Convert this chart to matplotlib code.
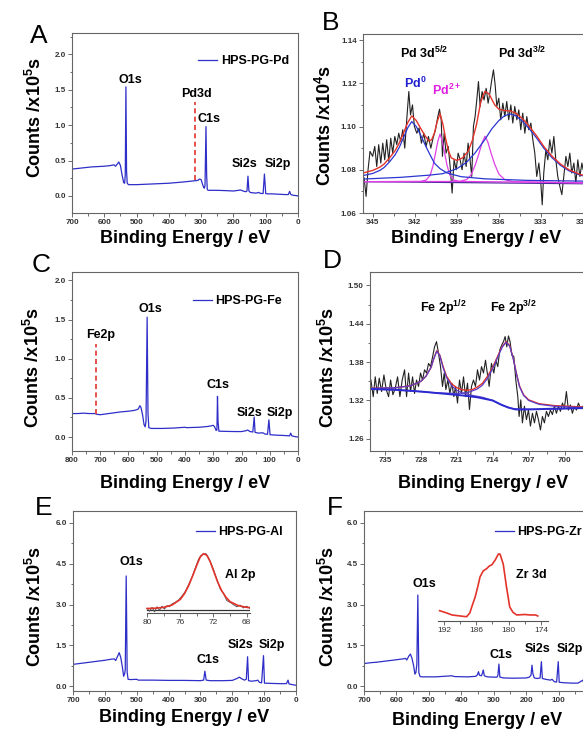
import matplotlib
matplotlib.use("Agg")
import matplotlib.pyplot as plt
from matplotlib.ticker import MultipleLocator, FormatStrFormatter

plt.rcParams['font.family'] = ['Liberation Sans', 'DejaVu Sans']
plt.rcParams['font.weight'] = 'bold'
plt.rcParams['axes.labelweight'] = 'bold'
plt.rcParams['mathtext.default'] = 'regular'

# ---------------- survey spectra (eV, counts x1e5) ----------------
# A: HPS-PG-Pd
pd_be = [700, 680, 660, 640, 620, 600, 580, 570, 565, 560, 555, 550, 545, 540, 537, 535, 533, 531, 529, 525,
         500, 450, 400, 350, 320, 310, 305, 300, 296, 292, 290, 288, 285, 283, 281, 278, 250, 220, 200, 185,
         178, 170, 162, 158, 155, 152, 148, 140, 130, 122, 118, 112, 108, 104, 100, 95, 80, 60, 40, 30,
         26, 22, 15, 5, 0]
pd_cts = [0.38, 0.39, 0.40, 0.41, 0.415, 0.42, 0.43, 0.44, 0.42, 0.45, 0.48, 0.43, 0.30, 0.19, 0.18, 0.30, 1.54, 0.35, 0.18, 0.16,
          0.16, 0.17, 0.18, 0.20, 0.215, 0.22, 0.24, 0.23, 0.17, 0.12, 0.11, 0.15, 0.98, 0.30, 0.09, 0.08, 0.08, 0.075, 0.07, 0.08,
          0.085, 0.07, 0.06, 0.07, 0.28, 0.07, 0.05, 0.045, 0.04, 0.05, 0.04, 0.035, 0.035, 0.31, 0.035, 0.03, 0.03, 0.025, 0.02, 0.02,
          0.065, 0.02, 0.01, 0.005, 0.0]
pd3d_line_be = 320
pd3d_line_cts = [0.22, 1.32]

# C: HPS-PG-Fe
fe_be = [800, 780, 760, 740, 720, 710, 700, 690, 670, 650, 630, 600, 580, 570, 565, 560, 556, 550, 545, 541,
         538, 534, 531, 528, 520, 480, 440, 400, 395, 350, 320, 305, 300, 295, 290, 287, 285, 283, 280, 250,
         220, 200, 185, 178, 170, 160, 155, 152, 140, 125, 118, 108, 103, 99, 80, 50, 30, 26, 22, 10, 0]
fe_cts = [0.30, 0.30, 0.305, 0.30, 0.30, 0.29, 0.285, 0.29, 0.30, 0.31, 0.32, 0.33, 0.34, 0.35, 0.36, 0.40, 0.38, 0.28, 0.16, 0.13,
          0.20, 1.53, 0.30, 0.12, 0.11, 0.11, 0.115, 0.125, 0.12, 0.125, 0.135, 0.145, 0.15, 0.13, 0.085, 0.09, 0.52, 0.20, 0.075, 0.072,
          0.07, 0.07, 0.08, 0.09, 0.07, 0.065, 0.255, 0.06, 0.05, 0.055, 0.04, 0.035, 0.22, 0.03, 0.025, 0.02, 0.015, 0.05, 0.015, 0.005, 0.0]
fe2p_line_be = 714
fe2p_line_cts = [0.30, 1.19]

# E: HPS-PG-Al
al_be = [700, 680, 660, 640, 620, 600, 580, 570, 566, 560, 555, 550, 545, 541, 538, 536, 533, 530, 527, 520,
         500, 495, 450, 400, 350, 300, 290, 286, 282, 270, 230, 200, 185, 178, 172, 162, 156, 152, 149, 140,
         125, 120, 115, 108, 102, 99, 80, 50, 30, 25, 22, 10, 0]
al_cts = [0.80, 0.83, 0.86, 0.89, 0.92, 0.95, 0.99, 1.00, 0.94, 1.10, 1.23, 1.05, 0.70, 0.36, 0.45, 0.60, 4.05, 0.50, 0.25, 0.24,
          0.25, 0.22, 0.22, 0.21, 0.21, 0.20, 0.22, 0.55, 0.22, 0.20, 0.20, 0.21, 0.28, 0.33, 0.28, 0.22, 0.25, 1.08, 0.20, 0.18,
          0.20, 0.22, 0.14, 0.12, 1.12, 0.11, 0.10, 0.09, 0.09, 0.22, 0.08, 0.05, 0.03]

# F: HPS-PG-Zr
zr_be = [700, 680, 660, 640, 620, 600, 580, 572, 568, 562, 557, 552, 547, 543, 540, 537, 534, 531, 527, 520,
         480, 440, 430, 420, 380, 355, 350, 347, 344, 338, 334, 332, 329, 320, 300, 290, 287, 284, 281, 270,
         240, 200, 190, 185, 182, 179, 175, 165, 157, 153, 150, 140, 125, 120, 113, 106, 101, 98, 80, 60,
         40, 25, 22, 0]
zr_cts = [0.83, 0.86, 0.88, 0.91, 0.94, 0.97, 1.00, 1.02, 0.96, 1.10, 1.18, 1.02, 0.75, 0.44, 0.50, 0.80, 3.35, 0.50, 0.35, 0.34,
          0.34, 0.37, 0.38, 0.35, 0.34, 0.36, 0.42, 0.53, 0.40, 0.38, 0.50, 0.59, 0.38, 0.34, 0.33, 0.33, 0.40, 0.81, 0.33, 0.30,
          0.29, 0.30, 0.33, 0.40, 0.77, 0.45, 0.30, 0.28, 0.30, 0.90, 0.28, 0.25, 0.22, 0.25, 0.16, 0.15, 0.90, 0.14, 0.12, 0.11,
          0.11, 0.22, 0.10, 0.08]

# ---------------- B: Pd 3d high resolution (counts x1e4) ----------------
pd3d_be = [345.62, 345.48, 345.34, 345.20, 345.01, 344.86, 344.72, 344.58, 344.43, 344.29,
           344.15, 344.01, 343.86, 343.72, 343.58, 343.43, 343.29, 343.15, 343.01, 342.86,
           342.72, 342.58, 342.43, 342.31, 342.17, 342.03, 341.86, 341.70, 341.53, 341.36,
           341.20, 341.03, 340.86, 340.70, 340.53, 340.36, 340.24, 340.12, 340.03, 339.91,
           339.77, 339.62, 339.48, 339.34, 339.20, 339.05, 338.91,
           338.77, 338.63, 338.49, 338.34, 338.20, 338.06, 337.94, 337.82, 337.70, 337.58,
           337.46, 337.34, 337.20, 337.06, 336.91, 336.77, 336.63, 336.51, 336.39, 336.27,
           336.15, 336.01, 335.87, 335.72, 335.58, 335.44, 335.30, 335.15, 335.01, 334.87,
           334.72, 334.58, 334.44, 334.30, 334.15, 334.01, 333.87, 333.72, 333.58, 333.44,
           333.30, 333.15, 333.01, 332.91, 332.80, 332.65, 332.51, 332.37, 332.22, 332.08,
           331.94, 331.80, 331.65, 331.51, 331.37, 331.22, 331.08, 330.94, 330.80, 330.65,
           330.51, 330.37, 330.22, 330.08, 329.99, 329.85, 329.70, 329.55]
pd3d_cts = [1.0762, 1.0677, 1.0800, 1.0885, 1.0862, 1.0908, 1.0815, 1.0916, 1.0831, 1.0923,
            1.0846, 1.0939, 1.0839, 1.0946, 1.0877, 1.0954, 1.0916, 1.0969, 1.0931, 1.0985,
            1.0900, 1.1031, 1.1162, 1.1054, 1.1100, 1.1000, 1.0969, 1.0993, 1.0923, 1.0969,
            1.0908, 1.0954, 1.0900, 1.0946, 1.0985, 1.1046, 1.1080, 1.1031, 1.0862, 1.0969,
            1.0877, 1.0908, 1.0815, 1.0692, 1.0846, 1.0800, 1.0877,
            1.0846, 1.0800, 1.0877, 1.0815, 1.0923, 1.0846, 1.0769, 1.1000, 1.1046, 1.1123,
            1.1208, 1.1093, 1.1162, 1.1123, 1.1177, 1.1108, 1.1162, 1.1216, 1.1262, 1.1193,
            1.1093, 1.1131, 1.1031, 1.1108, 1.1046, 1.1116, 1.1031, 1.1100, 1.1016, 1.1093,
            1.1031, 1.1077, 1.0985, 1.1062, 1.0969, 1.1046, 1.0985, 1.1016, 1.0939, 1.0877,
            1.0769, 1.0831, 1.0738, 1.0638, 1.0785, 1.0892, 1.0846, 1.0939, 1.0877, 1.0954,
            1.0846, 1.0769, 1.0723, 1.0685, 1.0769, 1.0862, 1.0815, 1.0877, 1.0785, 1.0831,
            1.0738, 1.0846, 1.0769, 1.0831, 1.0800, 1.0790, 1.0760, 1.0820]

pd0a_be = [345.7, 345.0, 344.5, 344.2, 343.8, 343.4, 343.1, 342.8, 342.5, 342.22, 341.9, 341.6, 341.3,
           341.0, 340.6, 340.2, 339.7, 338.7, 337.0, 334.0, 329.5]
pd0a_cts = [1.0773, 1.0783, 1.0797, 1.0810, 1.0837, 1.0870, 1.0905, 1.0950, 1.0995, 1.1023, 1.1000, 1.0962, 1.0920,
            1.0880, 1.0830, 1.0805, 1.0785, 1.0768, 1.0758, 1.0751, 1.0747]
pd0b_be = [345.7, 343.0, 341.0, 340.0, 339.0, 338.3, 337.7, 337.0, 336.5, 336.0, 335.6, 335.2, 334.8, 334.3,
           333.8, 333.3, 332.8, 332.2, 331.6, 331.0, 330.2, 329.5]
pd0b_cts = [1.0757, 1.0765, 1.0775, 1.0782, 1.0805, 1.0835, 1.0878, 1.0940, 1.0990, 1.1028, 1.1050, 1.1058, 1.1050, 1.1023,
            1.0987, 1.0946, 1.0900, 1.0855, 1.0820, 1.0795, 1.0775, 1.0765]
pd2a_be = [345.7, 341.6, 341.2, 340.9, 340.7, 340.5, 340.35, 340.2, 340.05, 339.9, 339.7, 339.5, 339.2, 338.8, 329.5]
pd2a_cts = [1.0745, 1.0746, 1.0752, 1.0775, 1.0820, 1.0885, 1.0935, 1.0965, 1.0935, 1.0885, 1.0820, 1.0775, 1.0752, 1.0746, 1.0740]
pd2b_be = [345.7, 338.8, 338.3, 338.0, 337.7, 337.45, 337.2, 337.0, 336.8, 336.55, 336.3, 336.0, 335.6, 335.0, 329.5]
pd2b_cts = [1.0745, 1.0746, 1.0755, 1.0775, 1.0820, 1.0870, 1.0925, 1.0955, 1.0930, 1.0875, 1.0825, 1.0780, 1.0755, 1.0745, 1.0738]
pdfit_be = [345.7, 345.0, 344.5, 344.2, 343.8, 343.4, 343.1, 342.8, 342.5, 342.22, 341.9, 341.6, 341.3, 341.0,
            340.8, 340.6, 340.4, 340.2, 340.0, 339.8, 339.6, 339.4, 339.0, 338.6, 338.2, 337.9, 337.6, 337.3,
            337.0, 336.7, 336.3, 336.0, 335.6, 335.2, 334.8, 334.3, 333.8, 333.3, 332.8, 332.2, 331.6, 331.0,
            330.2, 329.5]
pdfit_cts = [1.0785, 1.0797, 1.0812, 1.0826, 1.0855, 1.0889, 1.0925, 1.0972, 1.1019, 1.1049, 1.1028, 1.0993, 1.0960, 1.0933,
             1.0939, 1.0970, 1.1024, 1.1060, 1.1011, 1.0943, 1.0887, 1.0855, 1.0843, 1.0855, 1.0885, 1.0935, 1.1009, 1.1113,
             1.1163, 1.1150, 1.1100, 1.1080, 1.1074, 1.1072, 1.1062, 1.1036, 1.0998, 1.0956, 1.0908, 1.0862, 1.0826, 1.0800,
             1.0778, 1.0768]
pdbg_be = [345.7, 329.5]
pdbg_cts = [1.0745, 1.0735]

# ---------------- D: Fe 2p high resolution (counts x1e5) ----------------
fe2p_be = [737.72, 737.27, 736.88, 736.49, 736.10, 735.65, 735.19, 734.74, 734.28, 733.89,
           733.44, 732.99, 732.53, 732.08, 731.63, 731.17, 730.78, 730.39, 730.00, 729.61,
           729.23, 728.84, 728.45, 728.06, 727.67, 727.28, 726.89, 726.50, 726.11, 725.72,
           725.33, 724.95, 724.56, 724.17, 723.78, 723.45, 723.13, 722.74, 722.35, 721.96,
           721.57, 721.25, 720.86, 720.47, 720.08, 719.69, 719.30, 718.91, 718.53, 718.14,
           717.75, 717.36, 716.97, 716.58, 716.19, 715.80, 715.41,
           714.70, 714.25, 713.79, 713.41, 713.02, 712.63, 712.24, 711.91, 711.59, 711.26,
           710.94, 710.62, 710.29, 709.90, 709.51, 709.12, 708.87, 708.54, 708.22, 707.83,
           707.44, 707.05, 706.66, 706.27, 705.88, 705.49, 705.10, 704.71, 704.33, 703.94,
           703.55, 703.16, 702.77, 702.38, 701.99, 701.60, 701.21, 700.82, 700.43, 700.05,
           699.66, 699.27, 698.88, 698.49, 698.10, 697.71, 697.32, 696.93, 696.48,
           695.9, 695.3, 694.7, 694.0]
fe2p_cts = [1.352, 1.326, 1.357, 1.331, 1.355, 1.334, 1.360, 1.337, 1.326, 1.352,
            1.329, 1.339, 1.357, 1.326, 1.352, 1.368, 1.326, 1.363, 1.334, 1.357,
            1.331, 1.352, 1.342, 1.363, 1.352, 1.368, 1.363, 1.378, 1.373, 1.388,
            1.404, 1.412, 1.394, 1.373, 1.342, 1.363, 1.337, 1.352, 1.331, 1.347,
            1.326, 1.342, 1.316, 1.352, 1.331, 1.357, 1.326, 1.347, 1.306, 1.342,
            1.352, 1.342, 1.368, 1.352, 1.373, 1.363, 1.383,
            1.342, 1.378, 1.363, 1.383, 1.373, 1.399, 1.407, 1.412, 1.420, 1.404,
            1.421, 1.412, 1.391, 1.389, 1.352, 1.326, 1.295, 1.321, 1.285, 1.311,
            1.290, 1.305, 1.280, 1.300, 1.285, 1.303, 1.290, 1.274, 1.295, 1.285,
            1.303, 1.295, 1.305, 1.298, 1.311, 1.300, 1.311, 1.303, 1.316, 1.308,
            1.334, 1.305, 1.313, 1.300, 1.311, 1.305, 1.316, 1.308, 1.311,
            1.304, 1.318, 1.307, 1.313]

febg_be = [737.9, 733, 728, 724, 720, 717, 714, 712.5, 711, 709.5, 707, 703, 697, 693]
febg_cts = [1.338, 1.337, 1.334, 1.331, 1.328, 1.325, 1.320, 1.314, 1.309, 1.306, 1.306, 1.307, 1.308, 1.308]
fe1_be = [737.9, 733, 730, 728, 727, 726, 725.5, 724.9, 724.3, 723.7, 723, 722, 721, 720, 718, 716, 714, 712, 710, 705, 697, 693]
fe1_cts = [1.339, 1.340, 1.343, 1.350, 1.358, 1.372, 1.385, 1.397, 1.390, 1.372, 1.356, 1.343, 1.336, 1.332, 1.328, 1.325,
           1.320, 1.312, 1.307, 1.306, 1.308, 1.308]
fe2_be = [737.9, 730, 725, 721, 719, 717, 716, 715, 714, 713, 712.2, 711.4, 710.7, 710, 709.4, 708.8, 708, 707, 705, 702, 697, 693]
fe2_cts = [1.338, 1.335, 1.332, 1.331, 1.332, 1.338, 1.344, 1.355, 1.370, 1.388, 1.403, 1.411, 1.405, 1.385, 1.362, 1.342,
           1.328, 1.320, 1.314, 1.311, 1.309, 1.309]
fefit_be = [737.9, 733, 730, 728, 727, 726, 725.5, 724.9, 724.3, 723.7, 723, 722, 721, 720, 719, 718, 717, 716, 715, 714,
            713, 712.2, 711.4, 710.7, 710, 709.4, 708.8, 708, 707, 705, 702, 697, 693]
fefit_cts = [1.339, 1.340, 1.343, 1.350, 1.358, 1.372, 1.385, 1.398, 1.391, 1.374, 1.358, 1.346, 1.340, 1.337, 1.336, 1.337,
             1.341, 1.347, 1.358, 1.372, 1.390, 1.404, 1.412, 1.406, 1.386, 1.363, 1.343, 1.329, 1.321, 1.315, 1.312, 1.310, 1.310]

# ---------------- insets (relative intensity) ----------------
al2p_be = [80.0, 79.7, 79.4, 79.1, 78.8, 78.5, 78.2, 77.9, 77.6, 77.3, 77.0, 76.6, 76.2, 75.8, 75.4, 75.0, 74.6, 74.2,
           73.8, 73.5, 73.2, 72.9, 72.6, 72.3, 72.0, 71.6, 71.2, 70.8, 70.4, 70.0, 69.6, 69.2, 68.8, 68.4, 68.0, 67.6]
al2p_cts = [0.03, -0.02, 0.05, -0.03, 0.06, 0.0, 0.07, 0.02, 0.08, 0.06, 0.11, 0.14, 0.18, 0.25, 0.33, 0.45, 0.58, 0.74,
            0.90, 0.97, 0.99, 1.0, 0.93, 0.83, 0.72, 0.55, 0.38, 0.30, 0.17, 0.14, 0.10, 0.06, 0.09, 0.04, 0.07, 0.03]
al2p_fit_be = [80.0, 79.0, 78.0, 77.0, 76.0, 75.5, 75.0, 74.5, 74.0, 73.6, 73.2, 72.8, 72.4, 72.0, 71.5, 71.0, 70.5,
               70.0, 69.0, 68.0, 67.6]
al2p_fit = [0.03, 0.035, 0.05, 0.09, 0.19, 0.29, 0.43, 0.61, 0.80, 0.94, 1.0, 0.97, 0.86, 0.70, 0.50, 0.34, 0.23,
            0.15, 0.08, 0.05, 0.045]
al2p_bg_be = [80.0, 67.6]
al2p_bg = [0.01, 0.01]

zr3d_be = [192.8, 191.5, 190.5, 189.0, 187.8, 187.2, 186.8, 186.2, 185.7, 185.3, 184.7, 184.1, 183.6, 183.1,
           182.5, 181.9, 181.6, 181.0, 180.4, 179.8, 179.2, 178.5, 177.0, 176.0, 175.0, 174.6]
zr3d_cts = [0.154, 0.12, 0.09, 0.075, 0.064, 0.12, 0.22, 0.36, 0.52, 0.66, 0.75, 0.78, 0.82, 0.84,
            0.91, 1.0, 1.0, 0.85, 0.51, 0.21, 0.13, 0.09, 0.097, 0.09, 0.09, 0.075]

BLUE = '#2e2ec8'
RED = '#e3342c'
MAG = '#e040e6'
W, H = 583, 730
fig = plt.figure(figsize=(W / 100, H / 100), dpi=100)


def add_ax(x0, y0, x1, y1):
    # box in pixels, measured from the top left corner of the picture
    return fig.add_axes([x0 / W, 1 - y1 / H, (x1 - x0) / W, (y1 - y0) / H])


def style(ax, xstep, ystep, yfmt):
    ax.xaxis.set_major_locator(MultipleLocator(xstep))
    ax.xaxis.set_minor_locator(MultipleLocator(xstep / 2))
    ax.yaxis.set_major_locator(MultipleLocator(ystep))
    ax.yaxis.set_minor_locator(MultipleLocator(ystep / 2))
    ax.yaxis.set_major_formatter(FormatStrFormatter(yfmt))
    ax.tick_params(which='both', direction='out', labelsize=5.8, width=0.6,
                   color='#555555', labelcolor='#333333', pad=1.5)
    ax.tick_params(which='major', length=3)
    ax.tick_params(which='minor', length=1.8)
    for s in ax.spines.values():
        s.set_color('#666666')
        s.set_linewidth(0.8)


def labels(ax, ylab, ylab_xy, xlab_y):
    ax.set_xlabel('Binding Energy / eV', fontsize=13, fontweight='bold', va='baseline')
    ax.xaxis.set_label_coords(0.5, xlab_y)
    ax.set_ylabel(ylab, fontsize=13, fontweight='bold', va='center')
    ax.yaxis.set_label_coords(*ylab_xy)


def legend(ax, x, y):
    ax.legend(loc='center right', bbox_to_anchor=(x, y), frameon=False, fontsize=9,
              handlelength=1.5, handletextpad=0.3, borderpad=0, borderaxespad=0)


def inset_style(ax, step):
    ax.patch.set_visible(False)
    for side in ['left', 'top', 'right']:
        ax.spines[side].set_visible(False)
    ax.spines['bottom'].set_color('#555555')
    ax.spines['bottom'].set_linewidth(0.8)
    ax.set_yticks([])
    ax.xaxis.set_major_locator(MultipleLocator(step))
    ax.xaxis.set_minor_locator(MultipleLocator(step / 2))
    ax.tick_params(which='both', direction='out', labelsize=6, width=0.6, color='#555555',
                   labelcolor='#333333', pad=1.5)
    ax.tick_params(which='major', length=3)
    ax.tick_params(which='minor', length=1.8)
    for lab in ax.get_xticklabels():
        lab.set_fontweight('normal')


def letter(x, y, s):
    fig.text(x / W, 1 - y / H, s, fontsize=19, fontweight='normal', va='baseline', ha='left')


# ---- A ----
axA = add_ax(72, 33, 298, 213)
axA.plot(pd_be, pd_cts, color=BLUE, lw=0.9, label='HPS-PG-Pd')
axA.plot([pd3d_line_be, pd3d_line_be], pd3d_line_cts, color=RED, lw=1.2, ls=(0, (3, 2)))
axA.set_xlim(700, 0)
axA.set_ylim(-0.24, 2.30)
style(axA, 100, 0.5, '%.1f')
labels(axA, 'Counts /x10$^{5}$s', (-0.164, 0.533), -0.167)
legend(axA, 0.96, 0.844)
for s, x, y in [('O1s', 520, 1.63), ('Pd3d', 314, 1.44), ('C1s', 277, 1.08), ('Si2s', 166, 0.45), ('Si2p', 61, 0.45)]:
    axA.text(x, y, s, fontsize=9, ha='center', va='center')

# ---- B ----
axB = add_ax(363, 34, 590, 213)
axB.plot(pd3d_be, pd3d_cts, color='#222222', lw=0.8)
axB.plot(pdbg_be, pdbg_cts, color='#4a2a9a', lw=0.9)
axB.plot(pd2a_be, pd2a_cts, color=MAG, lw=0.9)
axB.plot(pd2b_be, pd2b_cts, color=MAG, lw=0.9)
axB.plot(pd0a_be, pd0a_cts, color='#2a36d0', lw=0.9)
axB.plot(pd0b_be, pd0b_cts, color='#2a36d0', lw=0.9)
axB.plot(pdfit_be, pdfit_cts, color=RED, lw=1.0)
axB.set_xlim(345.7, 329.5)
axB.set_ylim(1.06, 1.1428)
style(axB, 3, 0.02, '%.2f')
labels(axB, 'Counts /x10$^{4}$s', (-0.167, 0.486), -0.168)
axB.text(341.36, 1.1339, 'Pd 3d$^{5/2}$', fontsize=9, ha='center', va='center')
axB.text(334.37, 1.1339, 'Pd 3d$^{3/2}$', fontsize=9, ha='center', va='center')
axB.text(341.98, 1.1200, 'Pd$^{0}$', fontsize=9, ha='center', va='center', color='#2020d0')
axB.text(339.70, 1.1165, 'Pd$^{2+}$', fontsize=9, ha='center', va='center', color='#e020e0')

# ---- C ----
axC = add_ax(72, 272, 298, 451)
axC.plot(fe_be, fe_cts, color=BLUE, lw=0.9, label='HPS-PG-Fe')
axC.plot([fe2p_line_be, fe2p_line_be], fe2p_line_cts, color=RED, lw=1.2, ls=(0, (3, 2)))
axC.set_xlim(800, 0)
axC.set_ylim(-0.178, 2.107)
style(axC, 100, 0.5, '%.1f')
labels(axC, 'Counts /x10$^{5}$s', (-0.173, 0.464), -0.207)
legend(axC, 0.929, 0.838)
for s, x, y in [('O1s', 521, 1.63), ('Fe2p', 698, 1.30), ('C1s', 282, 0.66), ('Si2s', 170, 0.31), ('Si2p', 64, 0.31)]:
    axC.text(x, y, s, fontsize=9, ha='center', va='center')

# ---- D ----
axD = add_ax(370, 272, 597, 451)
axD.plot(fe2p_be, fe2p_cts, color='#222222', lw=0.8)
axD.plot(fefit_be, fefit_cts, color=RED, lw=1.0)
axD.plot(fe1_be, fe1_cts, color='#5a3ec8', lw=0.9)
axD.plot(fe2_be, fe2_cts, color='#5a3ec8', lw=0.9)
axD.plot(febg_be, febg_cts, color='#2a2ad0', lw=1.4)
axD.set_xlim(737.9, 693.7)
axD.set_ylim(1.241, 1.521)
style(axD, 7, 0.06, '%.2f')
labels(axD, 'Counts /x10$^{5}$s', (-0.185, 0.464), -0.207)
axD.text(723.65, 1.464, 'Fe 2p$^{1/2}$', fontsize=9, ha='center', va='center')
axD.text(710.0, 1.464, 'Fe 2p$^{3/2}$', fontsize=9, ha='center', va='center')

# ---- E ----
axE = add_ax(73, 511, 296, 691)
axE.plot(al_be, al_cts, color=BLUE, lw=0.9, label='HPS-PG-Al')
axE.set_xlim(700, 0)
axE.set_ylim(-0.18, 6.44)
style(axE, 100, 1.5, '%.1f')
labels(axE, 'Counts /x10$^{5}$s', (-0.170, 0.467), -0.172)
legend(axE, 0.942, 0.883)
for s, x, y in [('O1s', 516, 4.58), ('C1s', 275, 0.96), ('Si2s', 174, 1.51), ('Si2p', 76, 1.51), ('Al 2p', 176, 4.1)]:
    axE.text(x, y, s, fontsize=9, ha='center', va='center')

insE = add_ax(141, 548, 250, 613)
insE.plot(al2p_bg_be, al2p_bg, color='#333333', lw=0.9)
insE.plot(al2p_be, al2p_cts, color='#555555', lw=0.7)
insE.plot(al2p_fit_be, al2p_fit, color=RED, lw=1.2)
insE.set_xlim(80.73, 67.6)
insE.set_ylim(-0.05, 1.1)
inset_style(insE, 4)
insE.spines['bottom'].set_bounds(80, 67.6)

# ---- F ----
axF = add_ax(364, 511, 591, 691)
axF.plot(zr_be, zr_cts, color=BLUE, lw=0.9, label='HPS-PG-Zr')
axF.set_xlim(700, 0)
axF.set_ylim(-0.18, 6.44)
style(axF, 100, 1.5, '%.1f')
labels(axF, 'Counts /x10$^{5}$s', (-0.159, 0.467), -0.189)
legend(axF, 0.96, 0.883)
for s, x, y in [('O1s', 514, 3.75), ('C1s', 278, 1.14), ('Si2s', 166, 1.35), ('Si2p', 65, 1.35), ('Zr 3d', 184, 4.1)]:
    axF.text(x, y, s, fontsize=9, ha='center', va='center')

insF = add_ax(438, 546, 548, 621)
insF.plot(zr3d_be, zr3d_cts, color=RED, lw=1.2)
insF.set_xlim(193.1, 172.7)
insF.set_ylim(0, 1.12)
inset_style(insF, 6)

letter(30, 43, 'A')
letter(322, 30, 'B')
letter(32, 272, 'C')
letter(323, 268, 'D')
letter(35, 515, 'E')
letter(327, 515, 'F')

fig.savefig('out.png', dpi=100)
